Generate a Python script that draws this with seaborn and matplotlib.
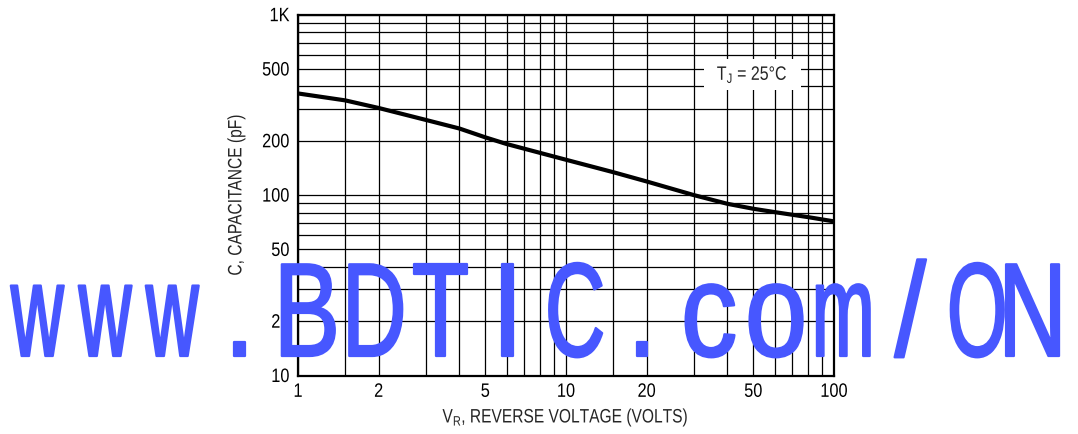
import numpy as np
import pandas as pd
import seaborn as sns
import matplotlib.pyplot as plt
from matplotlib import rc
from matplotlib import patheffects
from matplotlib.transforms import Affine2D

# curve (log-log)
voltage = [1, 1.5, 2, 3, 4, 5, 6, 10, 15, 20, 30, 40, 50, 60, 80, 100]
capacitance = [366, 335, 304, 261, 234, 209, 192, 157, 134, 119, 100, 89.5, 84, 80.5, 75.5, 71.5]

x_grid = [1, 1.5, 2, 3, 4, 5, 6, 7, 8, 9, 10, 15, 20, 30, 40, 50, 60, 70, 80, 90, 100]
x_labels = {1: '1', 2: '2', 5: '5', 10: '10', 20: '20', 50: '50', 100: '100'}
y_grid = [10, 20, 30, 40, 50, 60, 70, 80, 90, 100, 200, 300, 400, 500, 600, 700, 800, 900, 1000]
y_labels = {10: '10', 20: '20', 50: '50', 100: '100', 200: '200', 500: '500', 1000: '1K'}

watermark = 'www.BDTIC.com/ON'


class Narrow(patheffects.AbstractPathEffect):
    """Squeeze the glyphs along the text direction (no narrow font installed).
    anchor: 0 keeps the left ink edge, 0.5 the centre, 1 the right edge.
    width: optional target ink width in pixels (sx is then an upper limit).
    stroke: optional outline (points) in the text colour to thicken the strokes."""
    def __init__(self, sx=0.82, anchor=0.5, width=None, stroke=0):
        super().__init__()
        self.sx, self.anchor, self.width, self.stroke = sx, anchor, width, stroke

    def draw_path(self, renderer, gc, tpath, affine, rgbFace=None):
        ext = tpath.get_extents()
        sx = self.sx
        if self.width is not None:
            ink = affine.transform_path(tpath).get_extents().width
            sx = min(self.sx, self.width / ink)
        a = ext.x0 + self.anchor * ext.width
        squeeze = Affine2D().translate(-a, 0).scale(sx, 1).translate(a, 0)
        gc0 = renderer.new_gc()
        gc0.copy_properties(gc)
        if self.stroke:
            gc0.set_linewidth(self.stroke)
            gc0.set_foreground(rgbFace)
            gc0.set_joinstyle('round')
        renderer.draw_path(gc0, tpath, squeeze + affine, rgbFace)
        gc0.restore()


sns.set_style('white')
rc('font', **{'family': ['Liberation Sans', 'DejaVu Sans'], 'size': 14})
rc('mathtext', **{'default': 'regular'})

W, H = 1078, 434
fig = plt.figure(figsize=(W / 100, H / 100), dpi=100)
ax = fig.add_axes([298 / W, 1 - 375.5 / H, (834 - 298) / W, (375.5 - 14.7) / H])

df = pd.DataFrame({'V': voltage, 'C': capacitance})
sns.lineplot(data=df, x='V', y='C', ax=ax, color='black', linewidth=3, zorder=5)

ax.set_xscale('log')
ax.set_yscale('log')
ax.set_xlim(1, 100)
ax.set_ylim(10, 1000)
ax.set_xticks(x_grid)
ax.set_xticklabels([x_labels.get(v, '') for v in x_grid])
ax.set_yticks(y_grid)
ax.set_yticklabels([y_labels.get(v, '') for v in y_grid])
ax.minorticks_off()
ax.tick_params(length=0, pad=6, labelsize=14, colors='black')
ax.grid(True, which='major', color='black', linewidth=0.9)
for sp in ax.spines.values():
    sp.set_visible(True)
    sp.set_color('black')
    sp.set_linewidth(1.6)

for lbl in ax.get_xticklabels():
    lbl.set_path_effects([Narrow(0.84, 0.5)])
for lbl in ax.get_yticklabels():
    lbl.set_path_effects([Narrow(0.84, 1.0)])

ax.set_xlabel('V$_R$, REVERSE VOLTAGE (VOLTS)', fontsize=14)
ax.set_ylabel('C, CAPACITANCE (pF)', fontsize=14)
ax.xaxis.set_label_coords(0.5, -0.118)
ax.xaxis.label.set_va('center')
ax.yaxis.set_label_coords(-0.114, 0.5)
ax.yaxis.label.set_va('center')
ax.xaxis.label.set_path_effects([Narrow(0.8, 0.5)])
ax.yaxis.label.set_path_effects([Narrow(0.8, 0.5)])

ax.text(49.6, 464, 'T$_J$ = 25°C', ha='center', va='center', fontsize=14, zorder=6,
        bbox=dict(facecolor='white', edgecolor='none', pad=4),
        path_effects=[Narrow(0.82, 0.5)])

# blue watermark: fixed pitch, glyphs squeezed to about the same ink width
x0, pitch = 38, 67.1
last = len(watermark) - 1
for i, ch in enumerate(watermark):
    cx = x0 + i * pitch
    ha, anchor = 'center', 0.5
    if i == 0:
        cx, ha, anchor = 11, 'left', 0.0
    elif i == last:
        cx, ha, anchor = 1070, 'right', 1.0
    fig.text(cx / W, 78 / H, ch, ha=ha, va='baseline', fontsize=96,
             family=['Liberation Sans', 'DejaVu Sans'], color='#4757FF',
             path_effects=[Narrow(0.85, anchor, width=53, stroke=1.6)])

fig.savefig('out.png', dpi=100)
